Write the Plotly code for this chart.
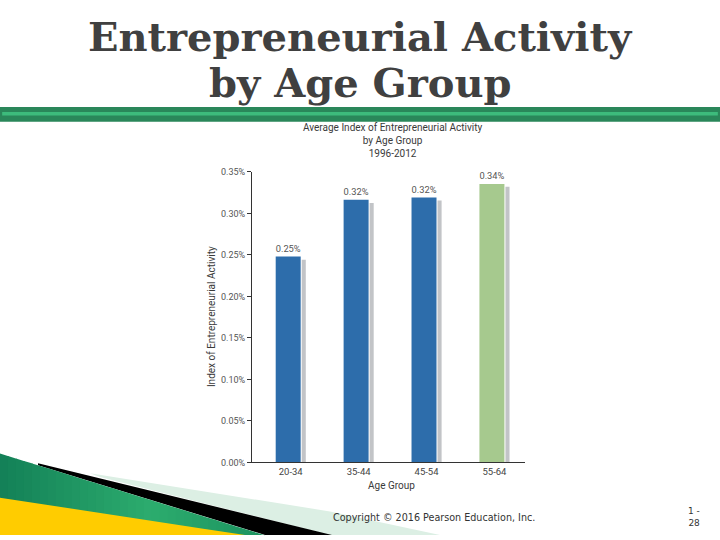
import plotly.graph_objects as go

# ---- data ----
categories = ["20-34", "35-44", "45-54", "55-64"]
index_values = [0.248, 0.3165, 0.319, 0.3355]      # bar heights (%)
shadow_values = [0.244, 0.3125, 0.3154, 0.332]     # shadow bar heights (%)
value_labels = ["0.25%", "0.32%", "0.32%", "0.34%"]
bar_colors = ["#2d6dab", "#2d6dab", "#2d6dab", "#a6c98e"]
y_ticks = [0, 0.05, 0.10, 0.15, 0.20, 0.25, 0.30, 0.35]
y_tick_labels = ["0.00%", "0.05%", "0.10%", "0.15%", "0.20%", "0.25%", "0.30%", "0.35%"]

W, H = 720, 540
def px(x):
    return x / W
def py(y):
    return 1 - y / H

CHART_FONT = "Roboto"

fig = go.Figure()

fig.add_trace(go.Bar(
    x=categories, y=shadow_values,
    marker=dict(color="#c2c4c7", line=dict(width=0)),
    offset=0.162, width=0.06, hoverinfo="skip", showlegend=False,
))
fig.add_trace(go.Bar(
    x=categories, y=index_values,
    marker=dict(color=bar_colors, line=dict(width=0)),
    offset=-0.221, width=0.368,
    text=value_labels, textposition="outside",
    textfont=dict(family=CHART_FONT, size=9.5, color="#555555"),
    cliponaxis=False, showlegend=False,
))

shapes = []
# header green bar
shapes.append(dict(type="rect", xref="paper", yref="paper", x0=0, x1=1,
                   y0=py(119), y1=py(104), fillcolor="#2a875a", line=dict(width=0), layer="below"))
shapes.append(dict(type="rect", xref="paper", yref="paper", x0=0.003, x1=0.997,
                   y0=py(112.5), y1=py(109), fillcolor="#3dbb7c", line=dict(width=0), layer="below"))

def poly(points, color):
    path = "M " + " L ".join(f"{px(x):.5f},{py(y):.5f}" for x, y in points) + " Z"
    return dict(type="path", xref="paper", yref="paper", path=path,
                fillcolor=color, line=dict(width=0), layer="below")

# decorative bottom-left wedges
shapes.append(poly([(90, 477), (330, 516), (440, 540), (330, 540), (100, 481)], "#dcefe4"))
shapes.append(poly([(38, 467), (332, 540), (265, 540), (38, 469)], "#000000"))

def gtop(x):
    return 457 + (540 - 457) * x / 264.0

# smooth decorative gradient for the green wedge
stops = [(0, (0x13, 0x80, 0x57)), (150, (0x2c, 0xac, 0x6e)), (264, (0x1c, 0x93, 0x5f))]
def grad(x):
    for (xa, ca), (xb, cb) in zip(stops[:-1], stops[1:]):
        if xa <= x <= xb:
            t = (x - xa) / (xb - xa)
            c = [round(a + (b - a) * t) for a, b in zip(ca, cb)]
            return "#%02x%02x%02x" % tuple(c)
    return "#1c935f"

n_bands = 33
step = 264.0 / n_bands
for i in range(n_bands):
    x0 = i * step
    x1 = x0 + step + 0.6
    shapes.append(poly([(x0, gtop(x0)), (x1, gtop(x1)), (x1, 540), (x0, 540)], grad(x0 + step / 2)))
shapes.append(poly([(0, 502), (200, 533), (245, 540), (0, 540)], "#ffcc00"))

annotations = [
    dict(text="<b>Entrepreneurial Activity</b>", x=px(360), y=py(32), xref="paper", yref="paper",
         showarrow=False, font=dict(family="DejaVu Serif", size=40, color="#404040"),
         xanchor="center", yanchor="middle"),
    dict(text="<b>by Age Group</b>", x=px(360), y=py(79), xref="paper", yref="paper",
         showarrow=False, font=dict(family="DejaVu Serif", size=40, color="#404040"),
         xanchor="center", yanchor="middle"),
    dict(text="Average Index of Entrepreneurial Activity<br>by Age Group<br>1996-2012",
         x=px(393), y=py(138), xref="paper", yref="paper", showarrow=False,
         font=dict(family=CHART_FONT, size=10, color="#3a3a3a"), align="center",
         xanchor="center", yanchor="middle"),
    dict(text="Index of Entrepreneurial Activity", x=px(211), y=py(318), xref="paper", yref="paper",
         showarrow=False, textangle=-90, font=dict(family=CHART_FONT, size=10, color="#3a3a3a"),
         xanchor="center", yanchor="middle"),
    dict(text="Age Group", x=px(392), y=py(490), xref="paper", yref="paper",
         showarrow=False, font=dict(family=CHART_FONT, size=10, color="#3a3a3a"),
         xanchor="center", yanchor="middle"),
    dict(text="Copyright © 2016 Pearson Education, Inc.", x=px(434), y=py(522), xref="paper", yref="paper",
         showarrow=False, font=dict(family="DejaVu Sans", size=9.6, color="#333333"),
         xanchor="center", yanchor="middle"),
    dict(text="1 -<br>28", x=px(694), y=py(522), xref="paper", yref="paper",
         showarrow=False, font=dict(family="DejaVu Sans", size=9, color="#333333"), align="right",
         xanchor="center", yanchor="middle"),
]

fig.update_layout(
    width=W, height=H, margin=dict(l=0, r=0, t=0, b=0),
    paper_bgcolor="white", plot_bgcolor="white",
    barmode="overlay", showlegend=False,
    shapes=shapes, annotations=annotations,
    xaxis=dict(domain=[px(252), px(525)], range=[-0.57, 3.45], type="category",
               showline=True, linecolor="#333333", linewidth=1, showgrid=False,
               ticks="", tickfont=dict(family=CHART_FONT, size=9.5, color="#444444"),
               fixedrange=True),
    yaxis=dict(domain=[py(466), py(170)], range=[0, 0.35],
               tickvals=y_ticks, ticktext=y_tick_labels,
               showline=True, linecolor="#333333", linewidth=1, showgrid=False, zeroline=False,
               ticks="outside", ticklen=4, tickcolor="#333333",
               tickfont=dict(family=CHART_FONT, size=9, color="#555555"),
               fixedrange=True),
)

fig.write_html("out.html")
